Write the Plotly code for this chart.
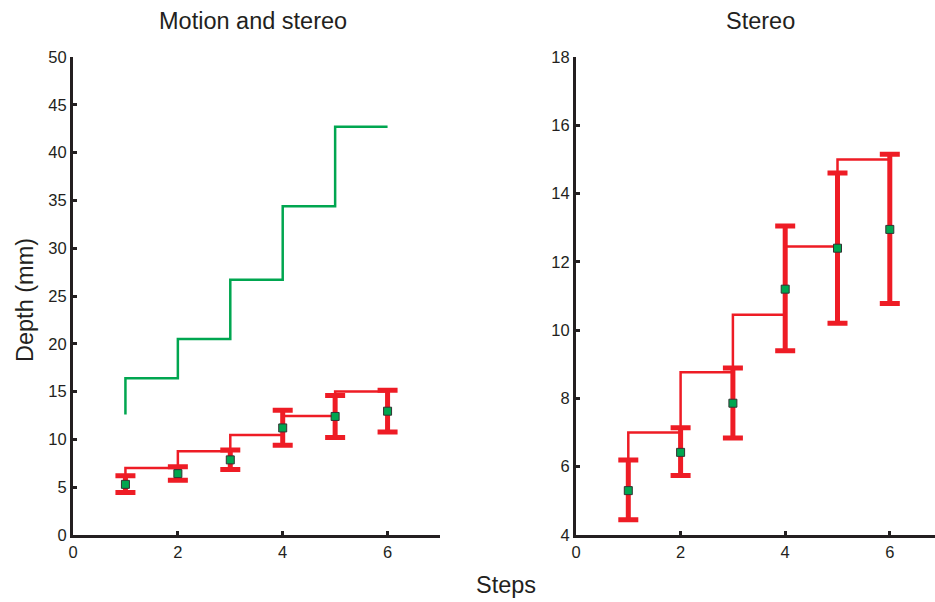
import plotly.graph_objects as go

# Data
steps = [1, 2, 3, 4, 5, 6]
mean_depth = [5.3, 6.42, 7.86, 11.2, 12.4, 12.95]
err_plus = [0.9, 0.72, 1.03, 1.85, 2.2, 2.2]
err_minus = [0.85, 0.68, 1.02, 1.8, 2.2, 2.17]
stereo_step = [5.3, 7.0, 8.77, 10.45, 12.45, 15.0]
motion_step = [12.6, 16.4, 20.5, 26.7, 34.4, 42.7]

RED = "#ee1c25"
GREEN = "#00a650"
DARK = "#231f20"
FONT = "Liberation Sans, Arial, Helvetica, sans-serif"

fig = go.Figure()

def add_panel(xa, ya, with_motion):
    if with_motion:
        fig.add_trace(go.Scatter(x=steps, y=motion_step, mode="lines", line_shape="vh",
                                 line=dict(color=GREEN, width=2.5), xaxis=xa, yaxis=ya,
                                 showlegend=False, hoverinfo="skip"))
    fig.add_trace(go.Scatter(x=steps, y=stereo_step, mode="lines", line_shape="vh",
                             line=dict(color=RED, width=2.5), xaxis=xa, yaxis=ya,
                             showlegend=False, hoverinfo="skip"))
    fig.add_trace(go.Scatter(x=steps, y=mean_depth, mode="markers",
                             marker=dict(symbol="square", size=8, color=GREEN,
                                         line=dict(color="#333333", width=1)),
                             error_y=dict(type="data", symmetric=False, array=err_plus,
                                          arrayminus=err_minus, color=RED,
                                          thickness=5, width=10),
                             xaxis=xa, yaxis=ya, showlegend=False))

add_panel("x", "y", True)
add_panel("x2", "y2", False)

W, H = 935, 602
ml, mr, mt, mb = 73, 0, 57, 67
pw = W - ml - mr
ph = H - mt - mb
left_end = (440 - ml) / pw
right_start = (576 - ml) / pw
right_range_end = (W - 576) / 52.3

axis_common = dict(showline=True, linecolor=DARK, linewidth=3, ticks="inside",
                   ticklen=4, tickwidth=2.5, tickcolor=DARK, showgrid=False,
                   zeroline=False, tickfont=dict(family=FONT, size=16.5, color=DARK))

def px_ann(text, px, py, angle=0):
    return dict(text=text, x=(px - ml) / pw, y=((H - py) - mb) / ph,
                xref="paper", yref="paper", xanchor="center", yanchor="middle",
                textangle=angle, showarrow=False,
                font=dict(family=FONT, size=23.5, color=DARK))

fig.update_layout(
    width=W, height=H,
    margin=dict(l=ml, r=mr, t=mt, b=mb),
    plot_bgcolor="white", paper_bgcolor="white",
    xaxis=dict(domain=[0, left_end], range=[0, 7], tickvals=[0, 2, 4, 6], **axis_common),
    yaxis=dict(range=[0, 50], tickvals=list(range(0, 51, 5)), **axis_common),
    xaxis2=dict(domain=[right_start, 1], range=[0, right_range_end], tickvals=[0, 2, 4, 6],
                anchor="y2", **axis_common),
    yaxis2=dict(range=[4, 18], tickvals=list(range(4, 19, 2)), anchor="x2", **axis_common),
    annotations=[
        px_ann("Motion and stereo", 253, 21),
        px_ann("Stereo", 760, 21),
        px_ann("Depth (mm)", 25, 300, -90),
        px_ann("Steps", 506, 585),
    ],
)

fig.write_html("out.html")
